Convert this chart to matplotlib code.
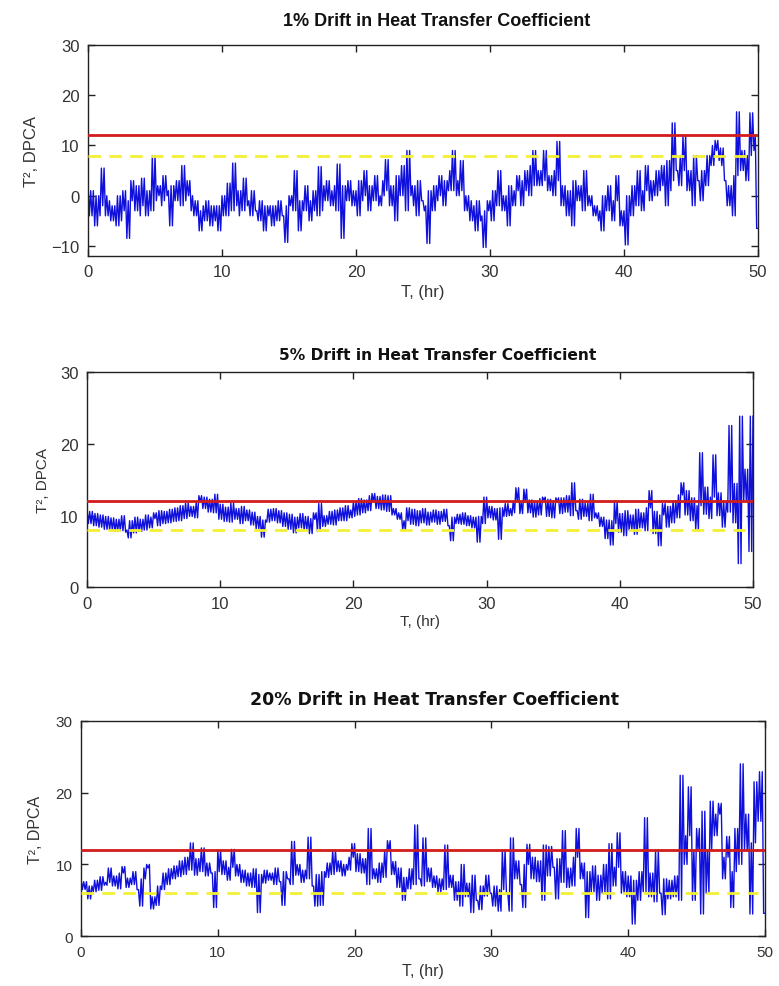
import matplotlib
matplotlib.use("Agg")
import matplotlib.pyplot as plt
import numpy as np

# ---------------- data ----------------
# readings every 0.2 hr (a) and half-way between them (b)
t_step = 0.1
titles = ["1% Drift in Heat Transfer Coefficient",
          "5% Drift in Heat Transfer Coefficient",
          "20% Drift in Heat Transfer Coefficient"]
upper_limits = [12.0, 12.0, 12.0]   # red solid
lower_limits = [8.0, 8.0, 6.0]      # yellow dashed
ylims = [(-12, 30), (0, 30), (0, 30)]
yticks = [[-10, 0, 10, 20, 30], [0, 10, 20, 30], [0, 10, 20, 30]]
xticks = [0, 10, 20, 30, 40, 50]

drift1_a = [
    2, -4, 1, -6, 0, -2, 5.5, -4, -1, -5,
    -2, -6, 0, -3, 1, -8.5, -1, 3, -3, 2,
    -2, 3.5, -4, 1, -3, 8, 0, 2, -1, 4,
    1, -6, 2, -1, 3, -2, 6, 0, 3, -1,
    -4, -1, -7, -3, -5, -1, -6, -2, -4, -7,
    -2, 0, -4, 2.5, -3, 6.5, -2, 1, -3, 3.5,
    -1, -4, 1, -3, -5, -1, -7, -2, -4, -6,
    -2, -5, -1, -4, -9.3, -2, 0, -3, 5, -7,
    -1, -3, 2, -5, -2, 1, -4, 5.8, -1, 0,
    3, -2, 1, -3, 6.3, -8.5, 2, -1, 3, -2,
    1, -4, 3, 0, 5, -3, 2, -1, 4, -2,
    0, 3, 7.2, -2, 2, -5, 4, 0, 6, -3,
    9, 0, 2, -4, 3, -1, -2, -9.5, 1, -3,
    2, 0, 4, -2, 3, 1, 5, 9, 0, 3,
    7, -3, 0, -5, -2, -7, -1, -4, -10.3, -3,
    -1, -5, 1, -2, 5, -3, 0, -6, 2, -2,
    1, 4, -2, 3, 5, 0, 6, 9, 2, 5,
    3, 9, 1, 4, 0, 5, 10.8, -2, 2, -4,
    1, -6, 3, -1, 2, -3, 5, -2, 0, -4,
    -2, -5, -7, 0, -3, 2, -5, -1, 4, -6,
    -3, -9.8, 0, -4, 2, -2, 5, -3, 1, 6,
    -1, 3, 0, 5, 2, 6, -2, 7, 3, 14.5,
    5, 2, 8, 12, 1, 5, -2, 8, 3, -1,
    5, 2, 8, 6, 10, 11, 8, 9.5, 3, -2,
    2, -4, 4, 16.7, 5, 9, 3, 8, 16.5, 12,
    -6.5]
drift1_b = [
    -1, 0, -3, -2, -4, 1, -1, 0, -3, -2,
    -4, -2, -5, 0, -3, -5, 1, -2, 0, -4,
    0, -1, -2, -3, 2, -1, 1, -2, 1, 0,
    -2, -3, 0, 1, -1, 2, -1, 1, -3, 0,
    -2, -5, -4, -2, -3, -5, -3, -5, -2, -4,
    -4, -1, -1, -2, 0, -1, -4, -2, 0, -2,
    -3, -1, -2, -4, -2, -5, -3, -4, -2, -3,
    -4, -2, -3, -6, -3, -1, -2, 1, -3, -2,
    -2, 0, -3, -1, -3, -2, 1, -3, 2, -1,
    0, -1, 2, -1, 0, -2, -1, 2, 0, 1,
    -2, 1, -1, 2, 0, -1, 1, 3, 0, -1,
    2, 1, 0, 1, -2, 1, 2, 3, -1, 2,
    1, -2, 0, 1, 0, -3, -5, -3, -1, 0,
    -1, 3, 1, 0, 2, 3, 1, 2, 1, 1,
    0, -2, -3, -1, -4, -3, -5, -6, -5, -1,
    -3, -1, -1, 0, -1, -2, -3, -1, 0, -1,
    2, 1, 0, 1, 2, 3, 2, 4, 3, 2,
    4, 2, 3, 1, 2, 3, 1, 0, -1, -1,
    -2, 0, 1, 0, -1, 1, 0, -1, -2, -3,
    -4, -3, -2, -2, -1, -3, -2, 1, -2, -4,
    -5, -3, -2, -1, 0, 1, 0, -1, 2, 1,
    1, 2, 3, 1, 4, 2, 3, 1, 5, 8,
    3, 6, 5, 4, 3, 1, 3, 4, 1, 2,
    4, 6, 7, 8, 9, 7, 6, 5, 0, 1,
    -1, 1, 9, 8, 6, 5, 6, 11, 9, 4]

drift5_a = [
    10.8, 8.9, 10.6, 8.6, 10.3, 8.4, 10.1, 8.1, 9.9, 8.0,
    9.7, 7.8, 9.5, 7.9, 10.0, 7.7, 6.9, 9.3, 7.6, 9.8,
    7.8, 9.5, 8.0, 10.1, 8.3, 9.8, 10.4, 8.6, 10.7, 8.9,
    10.6, 9.0, 10.9, 9.2, 11.1, 9.3, 11.4, 9.6, 11.8, 9.9,
    11.3, 9.7, 11.9, 12.8, 11.0, 12.6, 10.5, 12.3, 10.4, 13.0,
    9.5, 11.6, 9.2, 11.2, 9.1, 11.8, 9.5, 11.0, 8.9, 11.3,
    9.3, 10.8, 8.7, 10.5, 8.2, 9.9, 7.0, 9.4, 9.1, 10.9,
    9.3, 11.0, 9.0, 10.7, 8.5, 10.4, 8.1, 10.2, 7.6, 9.8,
    8.3, 10.3, 8.0, 9.9, 7.5, 9.6, 10.4, 7.8, 11.7, 8.5,
    10.0, 8.8, 10.6, 8.7, 10.8, 9.3, 11.1, 9.3, 11.4, 9.7,
    9.9, 12.0, 10.1, 12.4, 10.4, 12.2, 10.7, 12.8, 13.1, 11.0,
    12.7, 10.8, 12.9, 10.6, 12.8, 10.1, 11.0, 9.5, 10.4, 8.0,
    9.3, 11.1, 8.8, 10.9, 8.6, 10.7, 9.0, 11.0, 8.7, 10.5,
    9.1, 10.8, 8.8, 10.6, 9.2, 10.9, 8.6, 6.5, 9.8, 8.9,
    10.2, 8.8, 10.4, 8.6, 10.0, 8.3, 9.8, 6.3, 9.9, 8.9,
    12.6, 9.7, 11.3, 9.4, 11.0, 6.7, 11.1, 9.9, 11.7, 10.0,
    10.4, 12.0, 13.9, 10.3, 11.9, 13.7, 10.4, 12.2, 9.8, 12.0,
    10.1, 12.4, 12.6, 9.9, 12.3, 9.7, 12.1, 12.5, 10.3, 12.5,
    10.5, 12.8, 10.0, 14.6, 10.7, 9.5, 12.3, 9.9, 11.8, 9.3,
    13.0, 9.7, 10.4, 8.5, 9.8, 6.8, 9.4, 5.9, 9.3, 12.0,
    7.7, 10.3, 7.2, 10.7, 8.0, 10.1, 7.4, 10.9, 8.3, 10.4,
    7.9, 11.1, 13.5, 7.5, 10.6, 5.8, 10.1, 11.7, 8.4, 11.3,
    9.0, 12.1, 9.7, 12.9, 14.6, 10.1, 13.5, 9.3, 12.5, 8.1,
    11.4, 18.8, 10.2, 14.0, 9.6, 12.6, 18.5, 10.0, 13.2, 8.4,
    12.0, 10.5, 22.6, 9.0, 14.5, 3.3, 23.9, 12.0, 16.5, 5.0,
    23.9]
drift5_b = [
    9.8, 9.9, 9.5, 9.4, 9.3, 9.2, 9.0, 9.1, 8.8, 8.9,
    8.7, 8.8, 8.6, 9.0, 8.7, 8.0, 8.3, 8.4, 8.7, 8.6,
    8.6, 8.7, 9.1, 9.0, 9.1, 9.6, 9.4, 9.7, 9.8, 9.7,
    9.7, 10.0, 10.0, 10.2, 10.2, 10.4, 10.5, 10.7, 10.8, 10.6,
    10.5, 10.9, 12.1, 12.0, 11.9, 11.5, 11.4, 11.2, 11.6, 11.0,
    10.6, 10.3, 10.3, 10.2, 10.5, 10.6, 10.2, 9.9, 10.1, 10.2,
    10.0, 9.7, 9.6, 9.3, 9.0, 8.3, 8.0, 9.3, 10.0, 10.1,
    10.2, 10.0, 9.8, 9.6, 9.4, 9.2, 9.1, 8.6, 8.5, 9.0,
    9.3, 9.1, 9.0, 8.4, 8.3, 9.5, 9.0, 9.9, 10.2, 9.3,
    9.9, 9.7, 9.6, 9.9, 10.2, 10.1, 10.3, 10.5, 10.6, 10.8,
    11.0, 11.0, 11.4, 11.5, 11.3, 11.4, 11.8, 12.0, 12.2, 11.9,
    11.8, 12.0, 11.8, 12.0, 11.7, 10.3, 10.5, 10.2, 8.7, 9.0,
    10.2, 10.0, 9.8, 9.7, 9.6, 9.8, 10.0, 9.8, 9.5, 9.8,
    9.9, 9.7, 9.6, 9.9, 10.1, 9.7, 7.8, 8.0, 9.6, 9.8,
    9.9, 9.7, 9.5, 9.3, 9.2, 9.1, 7.5, 8.0, 9.7, 11.0,
    11.2, 10.5, 10.4, 10.2, 8.5, 8.6, 10.9, 10.8, 10.7, 11.0,
    11.3, 12.5, 12.2, 11.1, 12.4, 12.0, 11.3, 11.0, 10.9, 11.0,
    11.3, 12.2, 11.4, 11.1, 11.0, 10.9, 11.9, 11.5, 11.4, 11.6,
    11.7, 11.5, 12.5, 12.8, 10.6, 10.9, 11.1, 10.8, 10.5, 11.2,
    11.5, 9.6, 9.8, 8.8, 7.7, 7.3, 7.5, 7.4, 8.9, 10.0,
    9.0, 8.7, 8.9, 9.3, 9.0, 8.8, 9.1, 9.6, 9.4, 9.1,
    9.5, 12.0, 10.7, 9.0, 7.9, 7.7, 10.4, 10.0, 9.8, 10.2,
    10.5, 10.9, 11.3, 13.5, 12.6, 12.0, 11.5, 10.9, 10.3, 10.0,
    15.0, 14.5, 12.1, 11.8, 11.1, 15.5, 14.2, 11.6, 10.8, 10.2,
    11.2, 16.5, 15.8, 11.7, 8.9, 13.6, 18.0, 14.3, 10.8, 14.4]

drift20_a = [
    8.0, 6.5, 7.6, 5.2, 7.0, 6.2, 7.8, 6.4, 8.3, 7.1,
    7.5, 9.5, 7.0, 8.4, 6.6, 8.8, 9.7, 6.8, 8.1, 7.2,
    9.0, 6.5, 4.2, 8.0, 9.5, 10.0, 3.8, 5.5, 4.3, 7.0,
    6.5, 8.8, 7.2, 9.4, 8.0, 9.8, 8.3, 10.5, 8.6, 11.0,
    9.2, 13.0, 8.5, 10.8, 9.0, 12.3, 8.4, 10.2, 8.8, 4.0,
    9.0, 12.0, 8.6, 10.5, 7.8, 9.6, 12.1, 8.4, 10.0, 7.5,
    9.2, 7.0, 8.8, 6.8, 9.4, 3.3, 8.6, 7.4, 9.2, 7.8,
    8.8, 7.2, 9.5, 7.6, 4.3, 9.0, 8.0, 7.2, 13.2, 8.5,
    10.0, 7.5, 9.2, 8.0, 13.8, 7.0, 4.2, 8.6, 4.3, 9.0,
    8.2, 10.2, 8.6, 12.0, 9.0, 10.5, 8.4, 10.0, 9.2, 11.0,
    12.9, 9.0, 11.5, 8.8, 10.8, 7.2, 15.0, 8.0, 9.4, 7.5,
    10.2, 8.2, 12.0, 13.3, 8.6, 10.4, 6.8, 9.5, 5.0, 8.2,
    6.6, 9.4, 7.2, 15.5, 8.0, 7.0, 13.7, 7.6, 9.5, 6.8,
    8.4, 6.2, 8.0, 6.5, 12.7, 6.8, 8.5, 5.0, 7.6, 4.2,
    10.0, 5.5, 7.4, 3.3, 8.5, 5.0, 3.7, 7.0, 5.6, 8.5,
    6.0, 4.2, 7.0, 3.5, 6.5, 12.0, 6.0, 3.5, 13.7, 8.0,
    10.5, 7.2, 4.0, 10.0, 12.8, 8.0, 11.0, 7.6, 10.5, 5.0,
    12.7, 8.4, 12.5, 9.6, 5.2, 10.8, 7.5, 14.7, 6.8, 9.5,
    7.0, 11.0, 15.0, 8.0, 10.2, 2.6, 9.0, 6.2, 9.8, 5.0,
    8.5, 6.0, 10.0, 5.2, 12.9, 7.0, 9.6, 14.4, 6.0, 9.0,
    5.5, 8.4, 1.7, 7.8, 5.0, 9.0, 6.2, 16.5, 5.5, 8.8,
    4.8, 12.0, 6.0, 3.0, 8.0, 5.2, 7.8, 5.5, 8.4, 5.0,
    22.4, 10.0, 14.0, 20.8, 5.0, 12.0, 15.0, 3.1, 17.4, 6.0,
    12.0, 18.8, 14.0, 17.0, 18.5, 8.0, 11.0, 13.9, 4.0, 9.0,
    15.0, 10.0, 24.0, 12.0, 17.0, 3.1, 13.0, 21.5, 16.0, 22.9,
    3.2]
drift20_b = [
    7.2, 7.0, 6.4, 6.1, 6.6, 7.0, 7.1, 7.4, 7.7, 7.3,
    8.5, 8.2, 7.7, 7.5, 7.7, 9.2, 8.2, 7.5, 7.6, 8.1,
    7.8, 5.4, 6.1, 8.7, 9.7, 7.0, 4.6, 4.9, 5.7, 6.8,
    7.6, 8.0, 8.3, 8.7, 8.9, 9.0, 9.4, 9.5, 9.8, 10.1,
    11.0, 10.7, 9.6, 9.9, 10.6, 10.3, 9.3, 9.5, 6.4, 6.5,
    10.5, 10.3, 9.5, 9.1, 8.7, 10.8, 10.2, 9.2, 8.8, 8.3,
    8.1, 7.9, 7.8, 8.1, 6.3, 5.9, 8.0, 8.3, 8.5, 8.3,
    8.0, 8.3, 8.5, 6.0, 6.6, 8.5, 7.6, 10.2, 10.8, 9.2,
    8.7, 8.3, 8.6, 10.9, 10.4, 5.6, 6.4, 6.4, 6.6, 8.6,
    9.2, 9.4, 10.3, 10.5, 9.7, 9.4, 9.2, 9.6, 10.1, 11.9,
    10.9, 10.2, 10.1, 9.8, 9.0, 11.1, 11.5, 8.7, 8.4, 8.8,
    9.2, 10.1, 12.6, 10.9, 9.5, 8.6, 8.1, 7.2, 6.6, 7.4,
    8.0, 8.3, 11.3, 11.8, 7.5, 10.3, 10.6, 8.5, 8.1, 7.6,
    7.3, 7.1, 7.2, 9.6, 9.7, 7.6, 6.7, 6.3, 5.9, 7.1,
    7.7, 6.4, 5.3, 5.9, 6.7, 4.3, 5.3, 6.3, 7.0, 7.2,
    5.1, 5.6, 5.2, 5.0, 9.2, 9.0, 4.7, 8.6, 10.8, 9.2,
    8.8, 5.6, 7.0, 11.4, 10.4, 9.5, 9.3, 9.0, 7.7, 8.8,
    10.5, 10.4, 11.0, 7.4, 8.0, 9.1, 11.1, 10.7, 8.1, 8.2,
    9.0, 13.0, 11.5, 9.1, 6.4, 5.8, 7.6, 8.0, 7.4, 6.7,
    7.2, 8.0, 7.6, 9.0, 10.0, 8.3, 12.0, 10.2, 7.5, 7.2,
    6.9, 5.0, 4.8, 6.4, 7.0, 7.6, 11.3, 11.0, 7.1, 6.8,
    8.4, 9.0, 4.5, 5.5, 6.6, 6.5, 6.6, 6.9, 6.7, 13.0,
    16.2, 12.0, 17.4, 12.9, 8.5, 13.5, 9.0, 10.2, 11.7, 9.0,
    15.4, 16.4, 15.5, 17.8, 13.2, 9.5, 12.4, 9.0, 6.5, 12.0,
    12.5, 17.0, 18.0, 14.5, 10.0, 8.0, 17.2, 18.8, 19.5, 13.0]

series_a = [drift1_a, drift5_a, drift20_a]
series_b = [drift1_b, drift5_b, drift20_b]


def band_trace(a, b):
    """Dense noise band: in every 0.2 hr interval the trace swings from the
    highest to the lowest of the readings that bound that interval."""
    out = []
    for k in range(len(b)):
        vals = (a[k], b[k], a[k + 1])
        out.append(max(vals))
        out.append(min(vals))
    out.append(a[-1])
    return np.asarray(out, dtype=float)


# ---------------- layout / style ----------------
W, H = 779, 987
fig = plt.figure(figsize=(W / 100, H / 100), dpi=100)
fig.patch.set_facecolor("white")

# axes boxes in pixels: left, top, right, bottom
boxes = [(88, 46, 758, 257), (87, 373.5, 753, 588.3), (81, 721.7, 765, 937.3)]
title_pos = [(437, 21), (438, 356), (435, 700)]
title_fonts = [(["Liberation Sans", "DejaVu Sans"], 13),
               (["DejaVu Sans"], 11.2),
               (["DejaVu Sans"], 12.5)]
xlabel_y = [292, 622, 972]
ylabel_x = [32, 43, 36]
tick_fs = [12, 12, 11]
label_fs = [12, 11, 11.5]

tick_font = ["Liberation Sans", "DejaVu Sans"]

for i in range(3):
    l, t, r, b = boxes[i]
    ax = fig.add_axes([l / W, 1 - b / H, (r - l) / W, (b - t) / H])
    y = band_trace(series_a[i], series_b[i])
    x = np.arange(len(y)) * t_step
    ax.plot(x, y, color="#1010dc", lw=1.0, zorder=2)
    ax.axhline(upper_limits[i], color="#d21c1c", lw=2.0, zorder=4)
    ax.plot([0, 49.5], [lower_limits[i]] * 2, color="#f2f034", lw=2.0,
            dashes=(4.5, 3), zorder=3)
    ax.set_xlim(0, 50)
    ax.set_ylim(*ylims[i])
    ax.set_xticks(xticks)
    ax.set_yticks(yticks[i])
    ax.tick_params(direction="in", top=True, right=True, length=5, width=1,
                   labelsize=tick_fs[i], colors="#222222", pad=6)
    for lab in ax.get_xticklabels() + ax.get_yticklabels():
        lab.set_family(tick_font)
        lab.set_color("#333333")
    for s in ax.spines.values():
        s.set_linewidth(1.0)
        s.set_color("#222222")

    fam, fs = title_fonts[i]
    fig.text(title_pos[i][0] / W, 1 - title_pos[i][1] / H, titles[i],
             ha="center", va="center", fontsize=fs, fontweight="bold",
             family=fam, color="#111111")
    fig.text((l + r) / 2 / W, 1 - xlabel_y[i] / H, "T, (hr)",
             ha="center", va="center", fontsize=label_fs[i], family=tick_font,
             color="#333333")
    fig.text(ylabel_x[i] / W, 1 - (t + b) / 2 / H, "T², DPCA",
             ha="center", va="center", rotation=90, fontsize=label_fs[i],
             family=tick_font, color="#333333")

fig.savefig("out.png", dpi=100, facecolor="white")
